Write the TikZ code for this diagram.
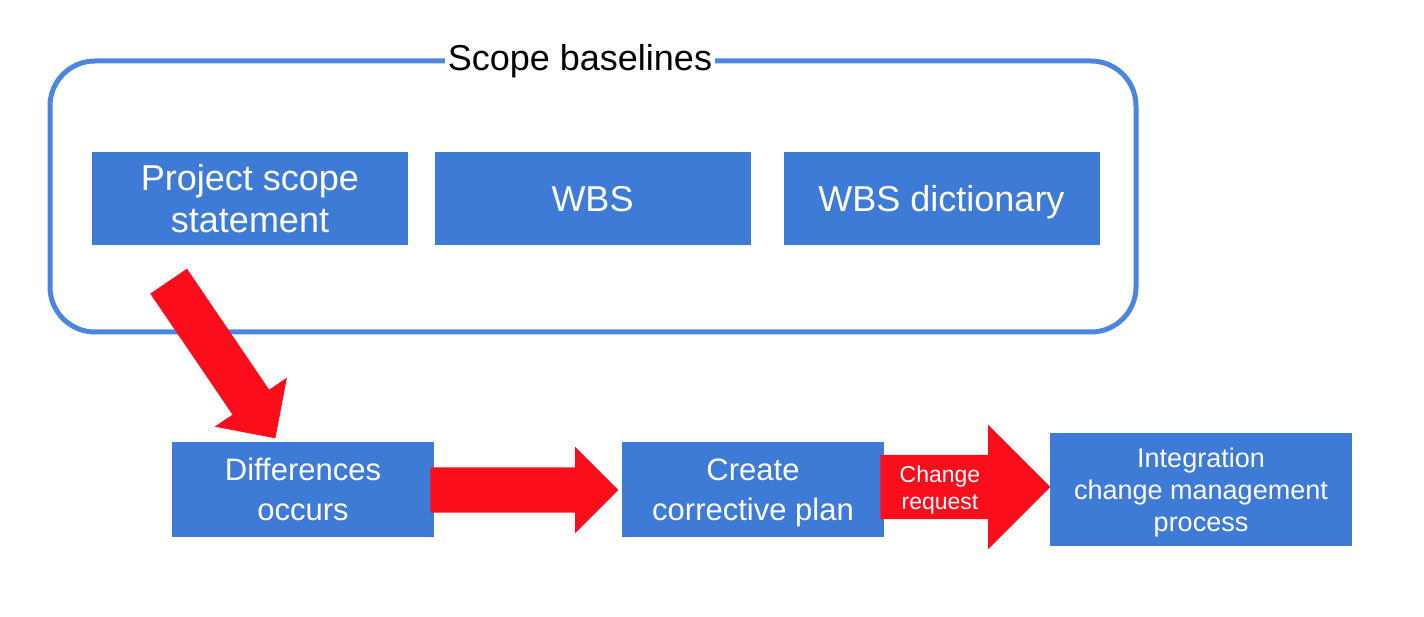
\documentclass[tikz,border=0pt]{standalone}
\usepackage{fontspec}
\setmainfont{Liberation Sans}
\usetikzlibrary{calc}
\usetikzlibrary{shapes.arrows}
\definecolor{boxblue}{HTML}{3E7BD6}
\definecolor{lineblue}{HTML}{4A86E0}
\definecolor{arrowred}{HTML}{FC0D1B}

\begin{document}
\begin{tikzpicture}[x=1pt,y=1pt,
  flowbox/.style={fill=boxblue,text=white,align=center,inner sep=0pt,text depth=0pt},
  redarrow/.style={single arrow,fill=arrowred,inner xsep=0pt,single arrow tip angle=90,anchor=tail}]
\useasboundingbox (0,0) rectangle (1424,616);
% scope baselines frame
\draw[lineblue,line width=5pt,rounded corners=45pt] (50,284) rectangle (1136,555);
\node[fill=white,inner xsep=3pt,inner ysep=0pt,font=\fontsize{36}{42}\selectfont] (title) at (580,555) {Scope baselines};
% baseline documents
\node[flowbox,minimum width=316,minimum height=93,font=\fontsize{36}{42}\selectfont] (pss) at (250,417.5) {Project scope\\statement};
\node[flowbox,minimum width=316,minimum height=93,font=\fontsize{36}{42}\selectfont] (wbs) at (592.5,417.5) {WBS};
\node[flowbox,minimum width=316,minimum height=93,font=\fontsize{36}{42}\selectfont] (dict) at (941.5,417.5) {WBS dictionary};
% control flow
\node[flowbox,minimum width=262,minimum height=95,font=\fontsize{31}{40}\selectfont] (diff) at (303,126.5) {Differences\\occurs};
\node[flowbox,minimum width=262,minimum height=95,font=\fontsize{31}{40}\selectfont] (plan) at (753,126.5) {Create\\corrective plan};
\node[flowbox,minimum width=302,minimum height=113,font=\fontsize{27}{32}\selectfont] (icm) at (1201,126.5) {Integration\\change management\\process};
% arrows
\coordinate (dtail) at (168.5,335);
\node[redarrow,rotate=-55.8,minimum height=190,minimum width=87,inner ysep=22,single arrow head extend=21.5] (darr) at (dtail) {};
\node[redarrow,minimum height=188,minimum width=86,inner ysep=22.5,single arrow head extend=20.5] (arr1) at ($ (diff.east)+(-4,-0.5)$) {};
\node[redarrow,minimum height=170,minimum width=124,inner ysep=32,single arrow head extend=30] (arr2) at ($ (plan.east)+(-4,2.5)$) {};
\node[text=white,align=center,text depth=0pt,font=\fontsize{23}{27}\selectfont] (chg) at (940,128) {Change\\request};
\end{tikzpicture}
\end{document}
